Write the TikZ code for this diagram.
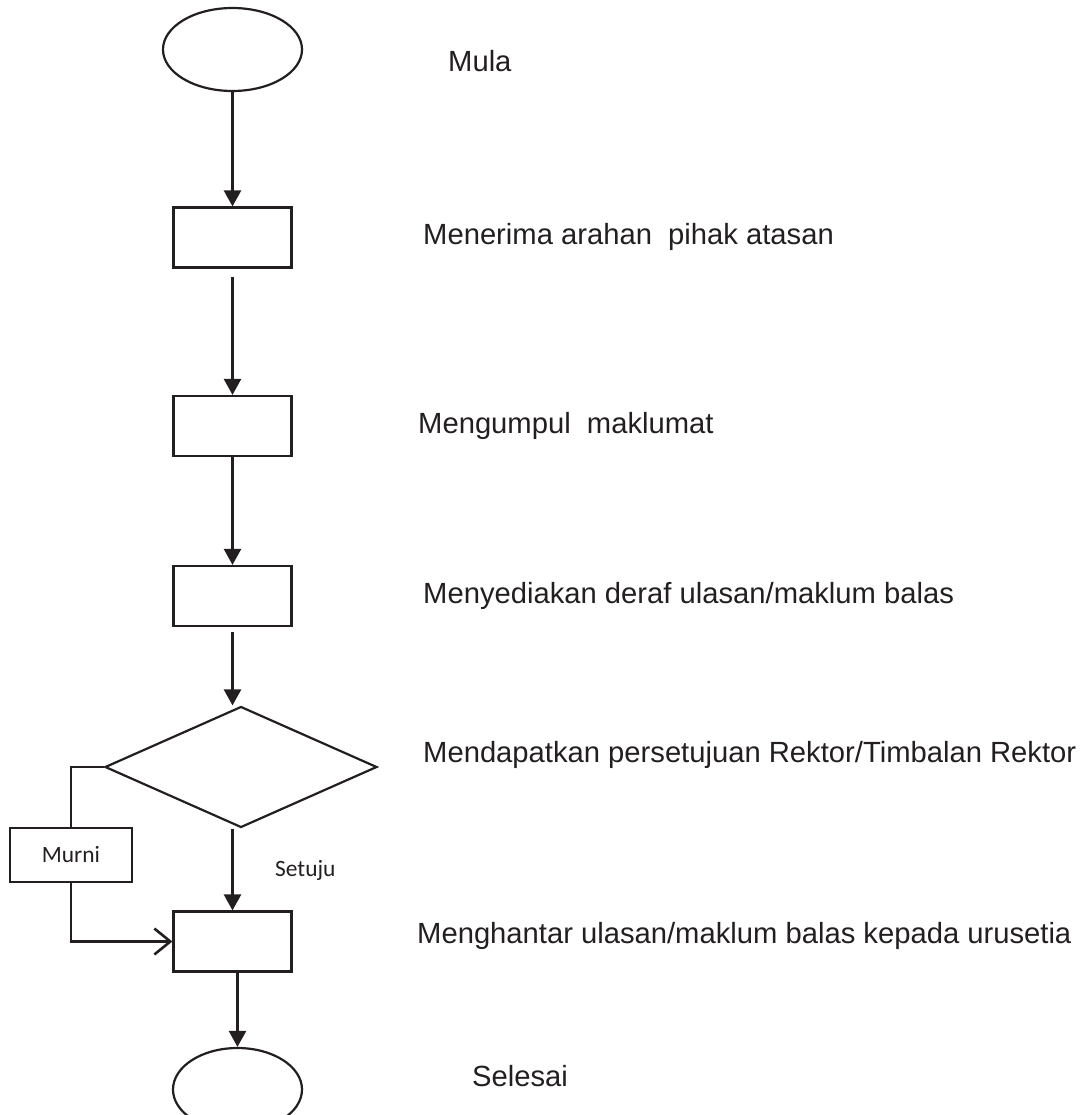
\documentclass[tikz,border=0pt]{standalone}
\usepackage{fontspec}
\setmainfont{Liberation Sans}
\newfontfamily\calibrifont{Carlito}
\usetikzlibrary{arrows.meta,shapes}
\definecolor{ink}{HTML}{231F20}

\begin{document}
\begin{tikzpicture}[x=1pt,y=-1pt,
    every node/.style={font=\fontsize{29.2}{35}\selectfont, text=ink},
    stepbox/.style={draw=ink, line width=2.2pt, minimum width=118pt, minimum height=60pt, inner sep=0pt},
    terminal/.style={draw=ink, line width=2.2pt, ellipse, inner sep=0pt},
    decision/.style={draw=ink, line width=2.2pt, diamond, minimum width=272pt, minimum height=121pt, inner sep=0pt},
    caption/.style={anchor=base west, inner sep=0pt},
    small/.style={font=\calibrifont\fontsize{23.4}{28}\selectfont},
    flow/.style={draw=ink, line width=2.6pt, -{Triangle[length=16pt,width=17pt]}},
    openflow/.style={draw=ink, line width=2.6pt, -{Straight Barb[length=16pt,width=26pt]}}]
        \useasboundingbox (0,0) rectangle (1086,1115);
        \clip (0,0) rectangle (1086,1115);
        \node[terminal, minimum width=139pt, minimum height=83pt] (mula) at (232.5,49.5) {};
        \node[stepbox] (terima) at (232.5,237.5) {};
        \node[stepbox] (kumpul) at (232.5,426) {};
        \node[stepbox] (sedia) at (232.5,596) {};
        \node[decision] (lulus) at (241,767) {};
        \node[stepbox, small, minimum width=122pt, minimum height=54pt] (murni) at (71,855) {Murni};
        \node[stepbox] (hantar) at (232.5,941.5) {};
        \node[terminal, minimum width=129pt, minimum height=83pt] (selesai) at (237.5,1089.5) {};
        \node[caption] (lmula) at (448,72) {Mula};
        \node[caption] (lterima) at (423,244) {Menerima arahan\ \ pihak atasan};
        \node[caption] (lkumpul) at (418,433) {Mengumpul\ \ maklumat};
        \node[caption] (lsedia) at (423,603) {Menyediakan deraf ulasan/maklum balas};
        \node[caption] (llulus) at (423,762) {Mendapatkan persetujuan Rektor/Timbalan Rektor};
        \node[caption] (lhantar) at (417,943) {Menghantar ulasan/maklum balas kepada urusetia};
        \node[caption] (lselesai) at (472,1086) {Selesai};
        \node[caption, small] (lsetuju) at (275,876) {Setuju};
        \draw[flow] (mula) -- (terima);
        \draw[flow, shorten <=8pt] (terima) -- (kumpul);
        \draw[flow] (kumpul) -- (sedia);
        \draw[flow, shorten <=5pt] (sedia) -- (sedia |- lulus.north);
        \draw[flow] (lulus.south -| hantar) -- (hantar);
        \draw[draw=ink, line width=2.2pt] (lulus.west) -| (murni.north);
        \draw[openflow] (murni.south) |- (hantar.west);
        \draw[flow] (hantar.south -| selesai) -- (selesai);
\end{tikzpicture}
\end{document}
